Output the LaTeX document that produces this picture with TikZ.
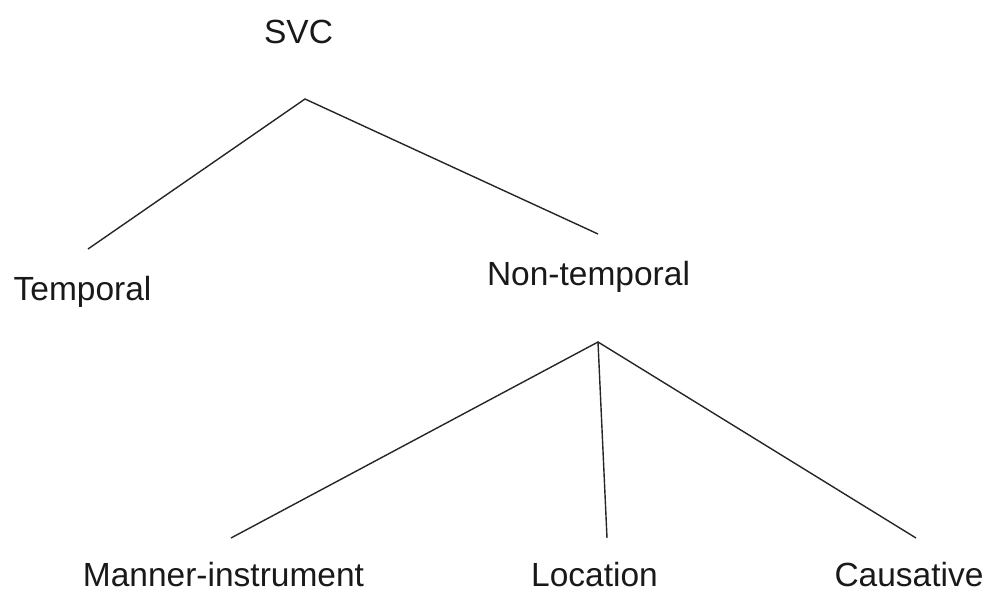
\documentclass[tikz,border=0pt]{standalone}
\usepackage{fontspec}
\setmainfont{Liberation Sans}
\begin{document}
\begin{tikzpicture}[x=1pt,y=-1pt,
  lbl/.style={inner sep=0pt,anchor=base,font=\fontsize{33.5}{40}\selectfont,text=black!90},
  edge/.style={line width=1.4pt,draw=black!85}]
\useasboundingbox (0,0) rectangle (985,592);
\node[lbl] (svc) at (298.5,43) {SVC};
\node[lbl] (temp) at (82.5,300) {Temporal};
\node[lbl] (nontemp) at (588.5,285) {Non-temporal};
\node[lbl] (manner) at (223.5,586.5) {Manner-instrument};
\node[lbl] (loc) at (594.5,586.5) {Location};
\node[lbl] (caus) at (909,586.5) {Causative};
\coordinate (svcA) at (305,99);
\coordinate (tempE) at (88,249);
\coordinate (ntE) at (598,234);
\coordinate (ntA) at (598,342);
\coordinate (manE) at (231,538);
\coordinate (locE) at (607,538);
\coordinate (causE) at (916,538);
\draw[edge] (tempE) -- (svcA) -- (ntE);
\draw[edge] (manE) -- (ntA) -- (causE);
\draw[edge] (ntA) -- (locE);
\end{tikzpicture}
\end{document}
